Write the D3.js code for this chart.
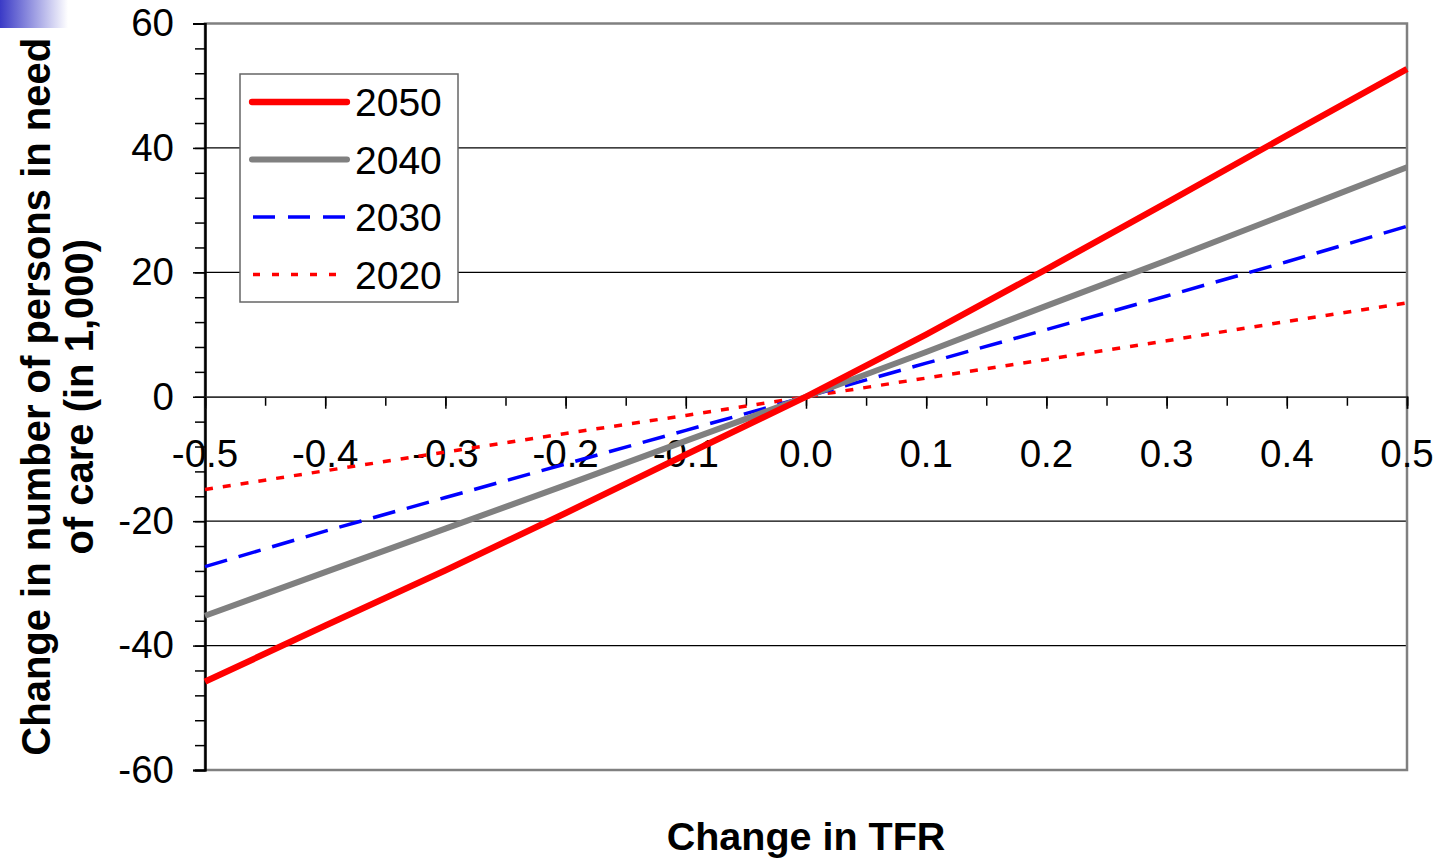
<!DOCTYPE html>
<html>
<head>
<meta charset="utf-8">
<script src="https://cdn.jsdelivr.net/npm/d3@7"></script>
<style>
  html, body { margin: 0; padding: 0; background: #fff; }
  svg { display: block; font-family: "Liberation Sans", Arial, sans-serif; }
</style>
</head>
<body>
<svg id="chart" width="1437" height="860"></svg>
<script>
// ---- data ----
const tfrChange = [-0.5, -0.4, -0.3, -0.2, -0.1, 0.0, 0.1, 0.2, 0.3, 0.4, 0.5];
const y2050 = [-45.8, -36.8, -27.9, -18.7, -9.3, 0, 10.0, 20.5, 31.2, 42.0, 52.7];
const y2040 = [-35.2, -28.2, -21.2, -14.2, -7.1, 0, 7.2, 14.6, 21.9, 29.4, 36.9];
const y2030 = [-27.3, -21.6, -16.2, -10.8, -5.4, 0, 5.4, 10.8, 16.2, 21.7, 27.4];
const y2020 = [-14.9, -11.9, -8.9, -5.9, -3.0, 0, 3.0, 6.0, 9.0, 12.1, 15.1];
const seriesNames = ["2050", "2040", "2030", "2020"];
const xTickLabels = ["-0.5", "-0.4", "-0.3", "-0.2", "-0.1", "0.0", "0.1", "0.2", "0.3", "0.4", "0.5"];
const yTickLabels = ["60", "40", "20", "0", "-20", "-40", "-60"];
const yTitleLines = ["Change in number of persons in need", "of care (in 1,000)"];
const xTitle = "Change in TFR";

// ---- layout ----
const svg = d3.select("#chart");
const L = 205, R = 1407, T = 23.5, B = 770;
const x = d3.scaleLinear().domain([-0.5, 0.5]).range([L, R]);
const y = d3.scaleLinear().domain([-60, 60]).range([B, T]);

// decorative gradient square (top-left)
const defs = svg.append("defs");
const grad = defs.append("linearGradient").attr("id", "blueFade");
grad.append("stop").attr("offset", "0%").attr("stop-color", "#3a3ac6");
grad.append("stop").attr("offset", "100%").attr("stop-color", "#ffffff");
svg.append("rect").attr("x", 0).attr("y", 0).attr("width", 68).attr("height", 28).attr("fill", "url(#blueFade)");

// gridlines
svg.append("g").selectAll("line")
  .data([40, 20, -20, -40])
  .join("line")
  .attr("x1", L).attr("x2", R)
  .attr("y1", d => y(d)).attr("y2", d => y(d))
  .attr("stroke", "#000").attr("stroke-width", 1.2);

// frame
svg.append("rect")
  .attr("x", L).attr("y", T).attr("width", R - L).attr("height", B - T)
  .attr("fill", "none").attr("stroke", "#808080").attr("stroke-width", 2.5);

// y axis minor ticks
const yMinor = d3.axisLeft(y).tickValues(d3.range(-60, 61, 4)).tickSize(10).tickFormat("");
const gYm = svg.append("g").attr("transform", `translate(${L},0)`).call(yMinor);
// y axis major ticks with labels
const yMajor = d3.axisLeft(y).tickValues(yTickLabels.map(Number)).tickSize(12).tickPadding(19)
  .tickFormat((d, i) => yTickLabels[i]);
const gY = svg.append("g").attr("transform", `translate(${L},0)`).call(yMajor);
[gYm, gY].forEach(g => {
  g.select(".domain").attr("stroke", "#000").attr("stroke-width", 2);
  g.selectAll(".tick line").attr("stroke", "#000").attr("stroke-width", 1.5);
});
gY.selectAll(".tick text").attr("font-size", 38.5).attr("fill", "#000")
  .attr("font-family", "'Liberation Sans', Arial, sans-serif");

// x axis at y = 0
const xMinor = d3.axisBottom(x).tickValues(d3.range(-0.5, 0.501, 0.05)).tickSize(9).tickFormat("");
const gXm = svg.append("g").attr("transform", `translate(0,${y(0)})`).call(xMinor);
const xMajor = d3.axisBottom(x).tickValues(xTickLabels.map(Number)).tickSize(12).tickFormat("");
const gX = svg.append("g").attr("transform", `translate(0,${y(0)})`).call(xMajor);
[gXm, gX].forEach(g => {
  g.select(".domain").attr("stroke", "#333").attr("stroke-width", 1.6);
  g.selectAll(".tick line").attr("stroke", "#000").attr("stroke-width", 1.5);
});
svg.append("g").selectAll("text")
  .data(xTickLabels)
  .join("text")
  .attr("x", d => x(+d))
  .attr("y", y(0) + 70.5)
  .attr("text-anchor", "middle")
  .attr("font-size", 38.5)
  .attr("fill", "#000")
  .text(d => d);

// series
const seriesData = [y2050, y2040, y2030, y2020];
const styles = [
  { color: "#ff0000", width: 6.3, dash: null, cap: "round" },
  { color: "#808080", width: 6.0, dash: null, cap: "round" },
  { color: "#0000ff", width: 3.5, dash: "23,12", cap: "butt" },
  { color: "#ff0000", width: 3.5, dash: "8,10", cap: "butt" }
];
const line = d3.line().x((d, i) => x(tfrChange[i])).y(d => y(d));
const plot = svg.append("g");
[3, 2, 1, 0].forEach(k => {
  plot.append("path")
    .datum(seriesData[k])
    .attr("d", line)
    .attr("fill", "none")
    .attr("stroke", styles[k].color)
    .attr("stroke-width", styles[k].width)
    .attr("stroke-dasharray", styles[k].dash)
    .attr("stroke-linejoin", "round")
    .attr("stroke-linecap", "butt");
});

// legend
const lg = svg.append("g");
lg.append("rect").attr("x", 240).attr("y", 74).attr("width", 218).attr("height", 228)
  .attr("fill", "#fff").attr("stroke", "#666").attr("stroke-width", 1.5);
const legendYs = [102, 159.5, 217, 274.5];
seriesNames.forEach((name, k) => {
  const st = styles[k];
  lg.append("line")
    .attr("x1", st.cap === "round" ? 252 : 253).attr("x2", 347)
    .attr("y1", legendYs[k]).attr("y2", legendYs[k])
    .attr("stroke", st.color).attr("stroke-width", st.width)
    .attr("stroke-dasharray", k === 3 ? "7,12" : (k === 2 ? "22,13" : null))
    .attr("stroke-linecap", st.cap);
  lg.append("text")
    .attr("x", 355).attr("y", legendYs[k] + 14)
    .attr("font-size", 39).attr("fill", "#000")
    .text(name);
});

// axis titles
const yt = svg.append("text")
  .attr("transform", `translate(0,${(T + B) / 2}) rotate(-90)`)
  .attr("text-anchor", "middle")
  .attr("font-size", 40).attr("font-weight", "bold").attr("fill", "#000");
yt.selectAll("tspan").data(yTitleLines).join("tspan")
  .attr("x", 0)
  .attr("y", (d, i) => 50 + i * 43)
  .text(d => d);

svg.append("text")
  .attr("x", 806).attr("y", 850)
  .attr("text-anchor", "middle")
  .attr("font-size", 39.5).attr("font-weight", "bold").attr("fill", "#000")
  .text(xTitle);
</script>
</body>
</html>
